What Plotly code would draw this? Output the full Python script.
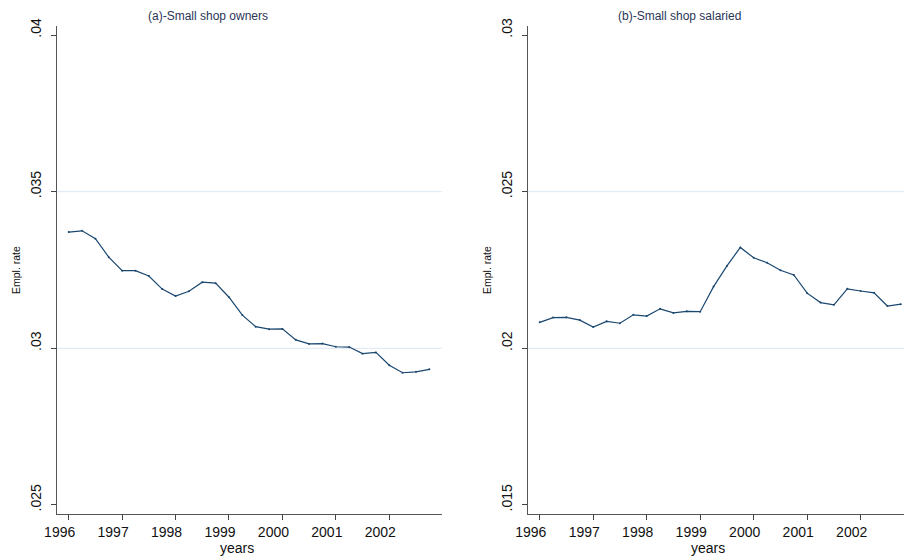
import plotly.graph_objects as go

# Quarterly observations, 1996Q1 - 2002Q4
quarters = [1996 + q / 4 for q in range(28)]

# (a) Small shop owners: employment rate
owners_rate = [
    0.03371, 0.03375, 0.03350, 0.03291, 0.03248, 0.03248, 0.03231, 0.03189,
    0.03167, 0.03182, 0.03211, 0.03208, 0.03163, 0.03106, 0.03069, 0.03061,
    0.03062, 0.03027, 0.03014, 0.03015, 0.03005, 0.03004, 0.02983, 0.02987,
    0.02946, 0.02922, 0.02925, 0.02933,
]

# (b) Small shop salaried: employment rate
salaried_rate = [
    0.02083, 0.02098, 0.02099, 0.02090, 0.02068, 0.02086, 0.02080, 0.02107,
    0.02103, 0.02126, 0.02113, 0.02118, 0.02117, 0.02197, 0.02263, 0.02322,
    0.02289, 0.02273, 0.02249, 0.02234, 0.02176, 0.02146, 0.02139, 0.02190,
    0.02183, 0.02177, 0.02135, 0.02141,
]

year_ticks = [1996, 1997, 1998, 1999, 2000, 2001, 2002]
owners_ticks = [0.025, 0.03, 0.035, 0.04]
owners_labels = [".025", ".03", ".035", ".04"]
salaried_ticks = [0.015, 0.02, 0.025, 0.03]
salaried_labels = [".015", ".02", ".025", ".03"]

W, H = 904, 558
LINE = "#1a476f"
GRID = "#dce6f2"
FONT = "Liberation Sans, Arial, sans-serif"

fig = go.Figure()
fig.add_trace(go.Scatter(
    x=quarters, y=owners_rate, mode="lines+markers", xaxis="x", yaxis="y",
    line=dict(color=LINE, width=1.2), marker=dict(size=2, color=LINE),
    showlegend=False,
))
fig.add_trace(go.Scatter(
    x=quarters, y=salaried_rate, mode="lines+markers", xaxis="x2", yaxis="y2",
    line=dict(color=LINE, width=1.2), marker=dict(size=2, color=LINE),
    showlegend=False,
))

ydom = [(H - 514) / H, (H - 26) / H]

xcommon = dict(
    tickvals=year_ticks, ticks="outside", ticklen=5, tickcolor="#444",
    showline=True, linecolor="#555", linewidth=1.3, showgrid=False,
    zeroline=False, tickfont=dict(family=FONT, size=14, color="#111"),
    ticklabelshift=-9, automargin=False,
)
ycommon = dict(
    ticks="outside", ticklen=5, tickcolor="#444", tickangle=-90,
    showline=True, linecolor="#555", linewidth=1.3, showgrid=False,
    zeroline=False, domain=ydom, ticklabelshift=-5, ticklabelstandoff=4,
    tickfont=dict(family=FONT, size=14, color="#111"), automargin=False,
)

fig.update_layout(
    width=W, height=H,
    margin=dict(l=0, r=0, t=0, b=0),
    paper_bgcolor="white", plot_bgcolor="white",
    xaxis=dict(domain=[57 / W, 441.7 / W], range=[1995.781, 2002.981],
               anchor="y", **xcommon),
    yaxis=dict(range=[0.02471, 0.04029], tickvals=owners_ticks,
               ticktext=owners_labels, anchor="x", **ycommon),
    xaxis2=dict(domain=[528 / W, 1.0], range=[1995.781, 2002.81],
                anchor="y2", **xcommon),
    yaxis2=dict(range=[0.01471, 0.03029], tickvals=salaried_ticks,
                ticktext=salaried_labels, anchor="x2", **ycommon),
)

# Grid lines only at the interior ticks
for xr, yr, ticks in (("x", "y", owners_ticks), ("x2", "y2", salaried_ticks)):
    for t in ticks[1:-1]:
        fig.add_shape(
            type="line", xref=f"{xr} domain", yref=yr, x0=0, x1=1, y0=t, y1=t,
            line=dict(color=GRID, width=1), layer="below",
        )

texts = [
    ("(a)-Small shop owners", 208, 16, 0, 12, "#2a3558"),
    ("(b)-Small shop salaried", 679, 16, 0, 12, "#2a3558"),
    ("years", 237, 548, 0, 14, "#111"),
    ("years", 708, 548, 0, 14, "#111"),
    ("Empl. rate", 16, 270, -90, 10.5, "#111"),
    ("Empl. rate", 487, 270, -90, 10.5, "#111"),
]
for txt, px, py, ang, size, col in texts:
    fig.add_annotation(
        text=txt, x=px / W, y=(H - py) / H, xref="paper", yref="paper",
        showarrow=False, textangle=ang, xanchor="center", yanchor="middle",
        font=dict(family=FONT, size=size, color=col),
    )

fig.write_html("out.html")
